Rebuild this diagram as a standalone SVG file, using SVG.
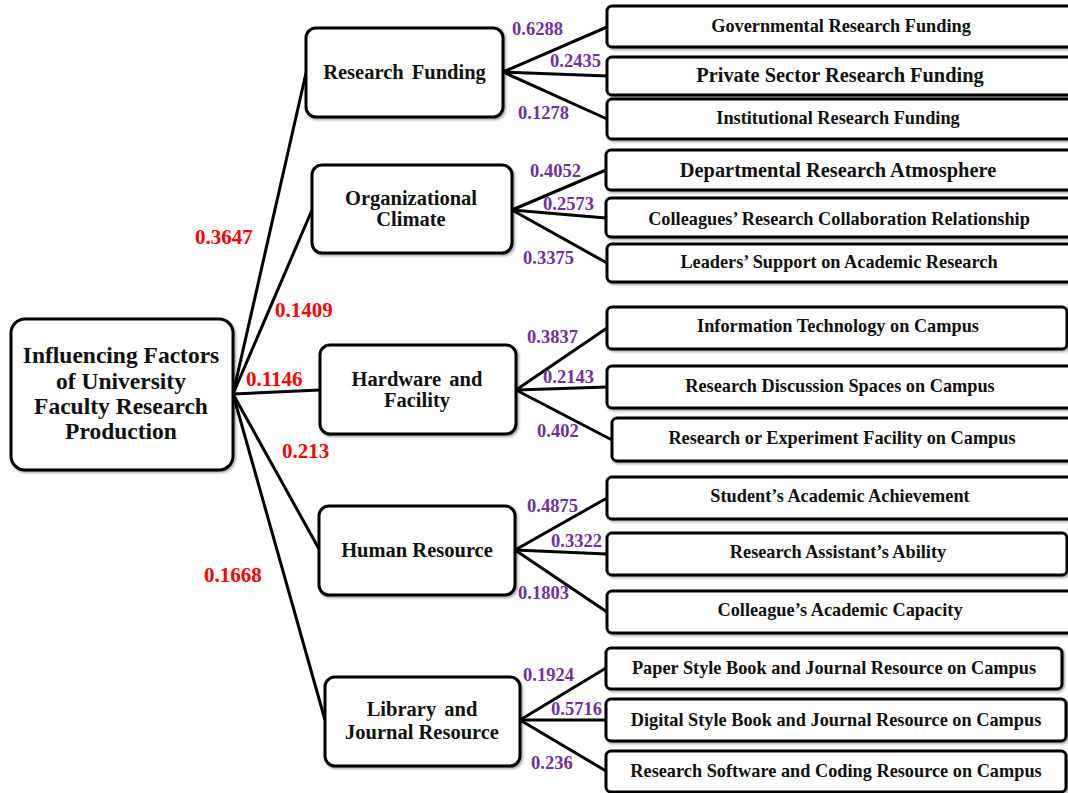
<svg xmlns="http://www.w3.org/2000/svg" width="1068" height="793" viewBox="0 0 1068 793">
<defs>
<filter id="sh" x="-5%" y="-10%" width="115%" height="130%">
<feDropShadow dx="1.5" dy="1.5" stdDeviation="1" flood-color="#000" flood-opacity="0.35"/>
</filter>
<style>
.box{fill:#fff;stroke:#000;stroke-width:3;filter:url(#sh)}
.t{font-family:"Liberation Serif","Times New Roman",serif;font-weight:bold;fill:#111;text-anchor:middle}
.main{font-size:23.5px}
.mid{font-size:20.5px}
.leaf{font-size:18.3px}
.big{font-size:20.4px}
.w{font-family:"Liberation Serif","Times New Roman",serif;font-weight:bold}
.red{fill:#FF0000;font-size:21px}
.pur{fill:#7030A0;font-size:18.5px}
.c{stroke:#000;stroke-width:3;fill:none}
</style>
</defs>
<rect width="1068" height="793" fill="#fff"/>
<g id="connectors">
<line class="c" x1="233" y1="394" x2="306" y2="73"/>
<line class="c" x1="233" y1="394" x2="312" y2="210"/>
<line class="c" x1="233" y1="394" x2="320" y2="390"/>
<line class="c" x1="233" y1="394" x2="319" y2="549"/>
<line class="c" x1="233" y1="394" x2="325" y2="720"/>
<line class="c" x1="503" y1="72" x2="607" y2="27"/>
<line class="c" x1="503" y1="72" x2="607" y2="76"/>
<line class="c" x1="503" y1="72" x2="607" y2="119"/>
<line class="c" x1="512" y1="210" x2="606" y2="170"/>
<line class="c" x1="512" y1="210" x2="606" y2="218"/>
<line class="c" x1="512" y1="210" x2="607" y2="263"/>
<line class="c" x1="516" y1="390" x2="607" y2="328"/>
<line class="c" x1="516" y1="390" x2="607" y2="387"/>
<line class="c" x1="516" y1="390" x2="612" y2="440"/>
<line class="c" x1="515" y1="550" x2="607" y2="498"/>
<line class="c" x1="515" y1="550" x2="607" y2="554"/>
<line class="c" x1="515" y1="550" x2="607" y2="612"/>
<line class="c" x1="520" y1="720" x2="606" y2="668"/>
<line class="c" x1="520" y1="720" x2="606" y2="720"/>
<line class="c" x1="520" y1="720" x2="606" y2="771"/>
</g>
<g id="weights">
<text class="w red" x="195" y="244">0.3647</text>
<text class="w red" x="275" y="317">0.1409</text>
<text class="w red" x="246" y="386">0.1146</text>
<text class="w red" x="282" y="458">0.213</text>
<text class="w red" x="204" y="582">0.1668</text>
<text class="w pur" x="512" y="35">0.6288</text>
<text class="w pur" x="550" y="67">0.2435</text>
<text class="w pur" x="518" y="119">0.1278</text>
<text class="w pur" x="530" y="177">0.4052</text>
<text class="w pur" x="543" y="210">0.2573</text>
<text class="w pur" x="523" y="264">0.3375</text>
<text class="w pur" x="527" y="343">0.3837</text>
<text class="w pur" x="543" y="383">0.2143</text>
<text class="w pur" x="537" y="437">0.402</text>
<text class="w pur" x="527" y="512">0.4875</text>
<text class="w pur" x="551" y="547">0.3322</text>
<text class="w pur" x="518" y="599">0.1803</text>
<text class="w pur" x="523" y="681">0.1924</text>
<text class="w pur" x="551" y="715">0.5716</text>
<text class="w pur" x="531" y="769">0.236</text>
</g>
<g id="root">
<rect class="box" x="11" y="319" width="222" height="151" rx="14"/>
<text class="t main" x="121" y="363">Influencing Factors</text>
<text class="t main" x="121" y="389">of University</text>
<text class="t main" x="121" y="414">Faculty Research</text>
<text class="t main" x="121" y="439">Production</text>
</g>
<g id="research-funding">
<rect class="box" x="306" y="28" width="197" height="89" rx="10"/>
<text class="t mid" x="404.5" y="79" word-spacing="3">Research Funding</text>
</g>
<g id="organizational-climate">
<rect class="box" x="312" y="165" width="200" height="88" rx="10"/>
<text class="t mid" x="411" y="205">Organizational</text>
<text class="t mid" x="411" y="226">Climate</text>
</g>
<g id="hardware-facility">
<rect class="box" x="320" y="345" width="196" height="89" rx="10"/>
<text class="t mid" x="417" y="386" word-spacing="3">Hardware and</text>
<text class="t mid" x="417" y="407">Facility</text>
</g>
<g id="human-resource">
<rect class="box" x="319" y="506" width="196" height="89" rx="10"/>
<text class="t mid" x="417" y="557">Human Resource</text>
</g>
<g id="library-journal">
<rect class="box" x="325" y="677" width="195" height="89" rx="10"/>
<text class="t mid" x="422" y="716" word-spacing="3">Library and</text>
<text class="t mid" x="422" y="739">Journal Resource</text>
</g>
<g id="governmental-funding">
<rect class="box" x="607" y="6" width="470" height="41" rx="5"/>
<text class="t leaf" x="841" y="32">Governmental Research Funding</text>
</g>
<g id="private-funding">
<rect class="box" x="607" y="57" width="470" height="38" rx="5"/>
<text class="t big" x="840" y="82">Private Sector Research Funding</text>
</g>
<g id="institutional-funding">
<rect class="box" x="607" y="99" width="470" height="40" rx="5"/>
<text class="t leaf" x="838" y="124">Institutional Research Funding</text>
</g>
<g id="departmental-atmosphere">
<rect class="box" x="606" y="150" width="470" height="40" rx="5"/>
<text class="t big" x="838" y="177">Departmental Research Atmosphere</text>
</g>
<g id="colleagues-collaboration">
<rect class="box" x="606" y="198" width="470" height="39" rx="5"/>
<text class="t leaf" x="839" y="225">Colleagues’ Research Collaboration Relationship</text>
</g>
<g id="leaders-support">
<rect class="box" x="607" y="244" width="470" height="38" rx="5"/>
<text class="t leaf" x="839" y="268">Leaders’ Support on Academic Research</text>
</g>
<g id="information-technology">
<rect class="box" x="607" y="307" width="460" height="42" rx="5"/>
<text class="t leaf" x="838" y="332">Information Technology on Campus</text>
</g>
<g id="discussion-spaces">
<rect class="box" x="607" y="366" width="470" height="42" rx="5"/>
<text class="t leaf" x="840" y="392">Research Discussion Spaces on Campus</text>
</g>
<g id="experiment-facility">
<rect class="box" x="612" y="418" width="470" height="43" rx="5"/>
<text class="t leaf" x="842" y="444">Research or Experiment Facility on Campus</text>
</g>
<g id="student-achievement">
<rect class="box" x="607" y="477" width="470" height="42" rx="5"/>
<text class="t leaf" x="840" y="502">Student’s Academic Achievement</text>
</g>
<g id="assistant-ability">
<rect class="box" x="607" y="533" width="460" height="42" rx="5"/>
<text class="t leaf" x="838" y="558">Research Assistant’s Ability</text>
</g>
<g id="colleague-capacity">
<rect class="box" x="607" y="591" width="470" height="42" rx="5"/>
<text class="t leaf" x="840" y="616">Colleague’s Academic Capacity</text>
</g>
<g id="paper-resource">
<rect class="box" x="606" y="648" width="456" height="41" rx="5"/>
<text class="t leaf" x="834" y="674">Paper Style Book and Journal Resource on Campus</text>
</g>
<g id="digital-resource">
<rect class="box" x="606" y="699" width="460" height="42" rx="5"/>
<text class="t leaf" x="836" y="726">Digital Style Book and Journal Resource on Campus</text>
</g>
<g id="software-resource">
<rect class="box" x="606" y="751" width="460" height="41" rx="5"/>
<text class="t leaf" x="836" y="777">Research Software and Coding Resource on Campus</text>
</g>
</svg>
